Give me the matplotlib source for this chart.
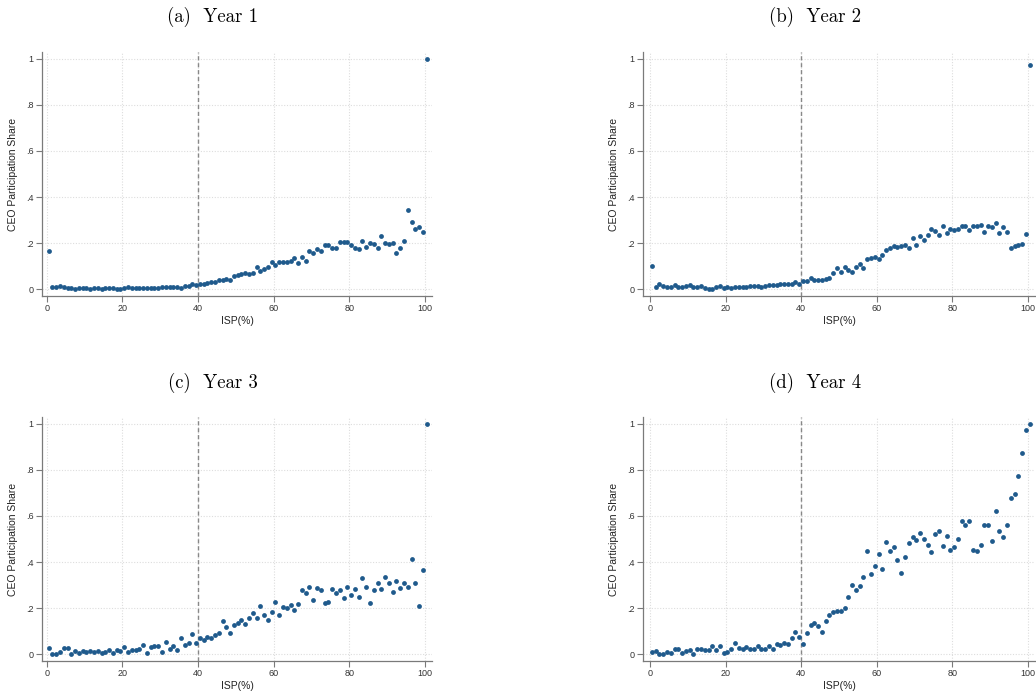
import numpy as np
import matplotlib
matplotlib.use("Agg")
import matplotlib.pyplot as plt
from matplotlib.ticker import FixedLocator, FixedFormatter

# bins of ISP (%), centred at 0.5 ... 100.5
isp = np.arange(101) + 0.5

year1 = [0.165, 0.010, 0.010, 0.012, 0.008, 0.004, 0.006, 0.000, 0.004, 0.006,
         0.003, 0.002, 0.004, 0.004, 0.002, 0.003, 0.003, 0.004, 0.002, 0.001,
         0.004, 0.007, 0.003, 0.004, 0.004, 0.004, 0.004, 0.005, 0.005, 0.004,
         0.009, 0.009, 0.010, 0.008, 0.007, 0.004, 0.015, 0.015, 0.020, 0.018,
         0.023, 0.020, 0.028, 0.030, 0.032, 0.040, 0.038, 0.045, 0.038, 0.055,
         0.062, 0.066, 0.070, 0.065, 0.070, 0.097, 0.080, 0.088, 0.095, 0.117,
         0.105, 0.118, 0.118, 0.117, 0.124, 0.134, 0.113, 0.140, 0.120, 0.165,
         0.155, 0.174, 0.166, 0.190, 0.192, 0.180, 0.180, 0.205, 0.205, 0.204,
         0.190, 0.178, 0.173, 0.210, 0.185, 0.200, 0.196, 0.180, 0.232, 0.200,
         0.198, 0.200, 0.155, 0.180, 0.210, 0.345, 0.293, 0.263, 0.270, 0.248,
         1.000]

year2 = [0.101, 0.007, 0.023, 0.012, 0.007, 0.010, 0.016, 0.010, 0.010, 0.012,
         0.016, 0.008, 0.008, 0.012, 0.003, 0.002, 0.002, 0.008, 0.012, 0.006,
         0.009, 0.004, 0.010, 0.008, 0.009, 0.011, 0.012, 0.013, 0.015, 0.010,
         0.015, 0.017, 0.016, 0.016, 0.020, 0.022, 0.022, 0.020, 0.030, 0.023,
         0.033, 0.035, 0.050, 0.040, 0.040, 0.038, 0.043, 0.050, 0.068, 0.090,
         0.075, 0.097, 0.082, 0.076, 0.098, 0.110, 0.093, 0.130, 0.133, 0.140,
         0.132, 0.146, 0.170, 0.178, 0.186, 0.185, 0.188, 0.190, 0.178, 0.220,
         0.190, 0.230, 0.212, 0.236, 0.262, 0.252, 0.236, 0.274, 0.245, 0.262,
         0.258, 0.263, 0.276, 0.276, 0.258, 0.273, 0.272, 0.280, 0.248, 0.273,
         0.270, 0.285, 0.245, 0.268, 0.248, 0.180, 0.188, 0.190, 0.197, 0.240,
         0.975]

year3 = [0.025, 0.000, 0.000, 0.007, 0.025, 0.027, 0.000, 0.013, 0.005, 0.015,
         0.010, 0.015, 0.010, 0.015, 0.003, 0.008, 0.018, 0.003, 0.018, 0.012,
         0.032, 0.008, 0.017, 0.016, 0.020, 0.040, 0.003, 0.030, 0.033, 0.037,
         0.010, 0.052, 0.022, 0.033, 0.019, 0.068, 0.038, 0.048, 0.087, 0.050,
         0.068, 0.060, 0.076, 0.068, 0.084, 0.093, 0.142, 0.118, 0.090, 0.127,
         0.135, 0.148, 0.130, 0.155, 0.180, 0.158, 0.208, 0.172, 0.147, 0.185,
         0.227, 0.168, 0.205, 0.200, 0.213, 0.190, 0.218, 0.280, 0.265, 0.293,
         0.233, 0.285, 0.280, 0.222, 0.228, 0.282, 0.265, 0.280, 0.243, 0.290,
         0.258, 0.284, 0.250, 0.330, 0.290, 0.222, 0.278, 0.310, 0.283, 0.337,
         0.308, 0.268, 0.316, 0.288, 0.307, 0.290, 0.415, 0.308, 0.207, 0.367,
         1.000]

year4 = [0.010, 0.012, 0.000, 0.000, 0.008, 0.006, 0.020, 0.024, 0.005, 0.012,
         0.017, 0.000, 0.024, 0.024, 0.016, 0.018, 0.037, 0.018, 0.033, 0.005,
         0.010, 0.020, 0.047, 0.028, 0.022, 0.030, 0.021, 0.023, 0.036, 0.022,
         0.020, 0.037, 0.022, 0.044, 0.040, 0.050, 0.046, 0.072, 0.094, 0.073,
         0.043, 0.090, 0.127, 0.136, 0.122, 0.095, 0.145, 0.172, 0.184, 0.187,
         0.187, 0.200, 0.247, 0.300, 0.280, 0.297, 0.333, 0.447, 0.350, 0.382,
         0.435, 0.368, 0.487, 0.447, 0.465, 0.407, 0.352, 0.422, 0.483, 0.507,
         0.497, 0.527, 0.500, 0.472, 0.442, 0.523, 0.535, 0.470, 0.515, 0.453,
         0.466, 0.500, 0.580, 0.560, 0.578, 0.452, 0.450, 0.475, 0.560, 0.562,
         0.490, 0.620, 0.533, 0.507, 0.560, 0.677, 0.694, 0.772, 0.872, 0.975,
         1.000]

titles = ["(a)  Year 1", "(b)  Year 2", "(c)  Year 3", "(d)  Year 4"]
series = [year1, year2, year3, year4]
xticks = [0, 20, 40, 60, 80, 100]
yticks = [0, 0.2, 0.4, 0.6, 0.8, 1]
ytick_labels = ["0", ".2", ".4", ".6", ".8", "1"]
cutoff = 40

W, H = 1036, 694
fig = plt.figure(figsize=(W / 100, H / 100), dpi=100)
plt.rcParams['font.family'] = ['Liberation Sans', 'DejaVu Sans']

# axes boxes in pixels: left, top, right, bottom ; plus xlim and title centre
boxes = [
    (42, 52, 432, 296, (-1.25, 101.9), (213, 17)),
    (643, 52, 1035, 296, (-1.85, 101.9), (815, 17)),
    (42, 417, 432, 661, (-1.25, 101.9), (213, 383)),
    (643, 417, 1035, 661, (-1.85, 101.9), (815, 383)),
]

for (l, t, r, b, xl, tpos), vals, title in zip(boxes, series, titles):
    ax = fig.add_axes([l / W, 1 - b / H, (r - l) / W, (b - t) / H])
    ax.scatter(isp, vals, s=12, color='#1f5a8c', linewidths=0, zorder=3)
    ax.axvline(cutoff, color='#888888', lw=1.0, ls=(0, (3, 2)), zorder=2)
    ax.set_xlim(*xl)
    ax.set_ylim(-0.03, 1.03)
    ax.xaxis.set_major_locator(FixedLocator(xticks))
    ax.yaxis.set_major_locator(FixedLocator(yticks))
    ax.yaxis.set_major_formatter(FixedFormatter(ytick_labels))
    ax.grid(True, color='#dddddd', ls=(0, (1, 1.5)), lw=0.8)
    ax.set_axisbelow(True)
    for s in ['top', 'right']:
        ax.spines[s].set_visible(False)
    for s in ['left', 'bottom']:
        ax.spines[s].set_color('#7a7a7a')
        ax.spines[s].set_linewidth(0.9)
    ax.tick_params(colors='#7a7a7a', labelcolor='#333333', labelsize=6.5,
                   length=4, width=0.8, pad=2)
    ax.set_ylabel("CEO Participation Share", fontsize=7.5, color='#222222', labelpad=6)
    ax.set_xlabel("ISP(%)", fontsize=7.5, color='#222222', labelpad=2)
    fig.text(tpos[0] / W, 1 - tpos[1] / H, title, ha='center', va='center',
             fontsize=13.5, family='cmr10')

fig.savefig("out.png", dpi=100)
